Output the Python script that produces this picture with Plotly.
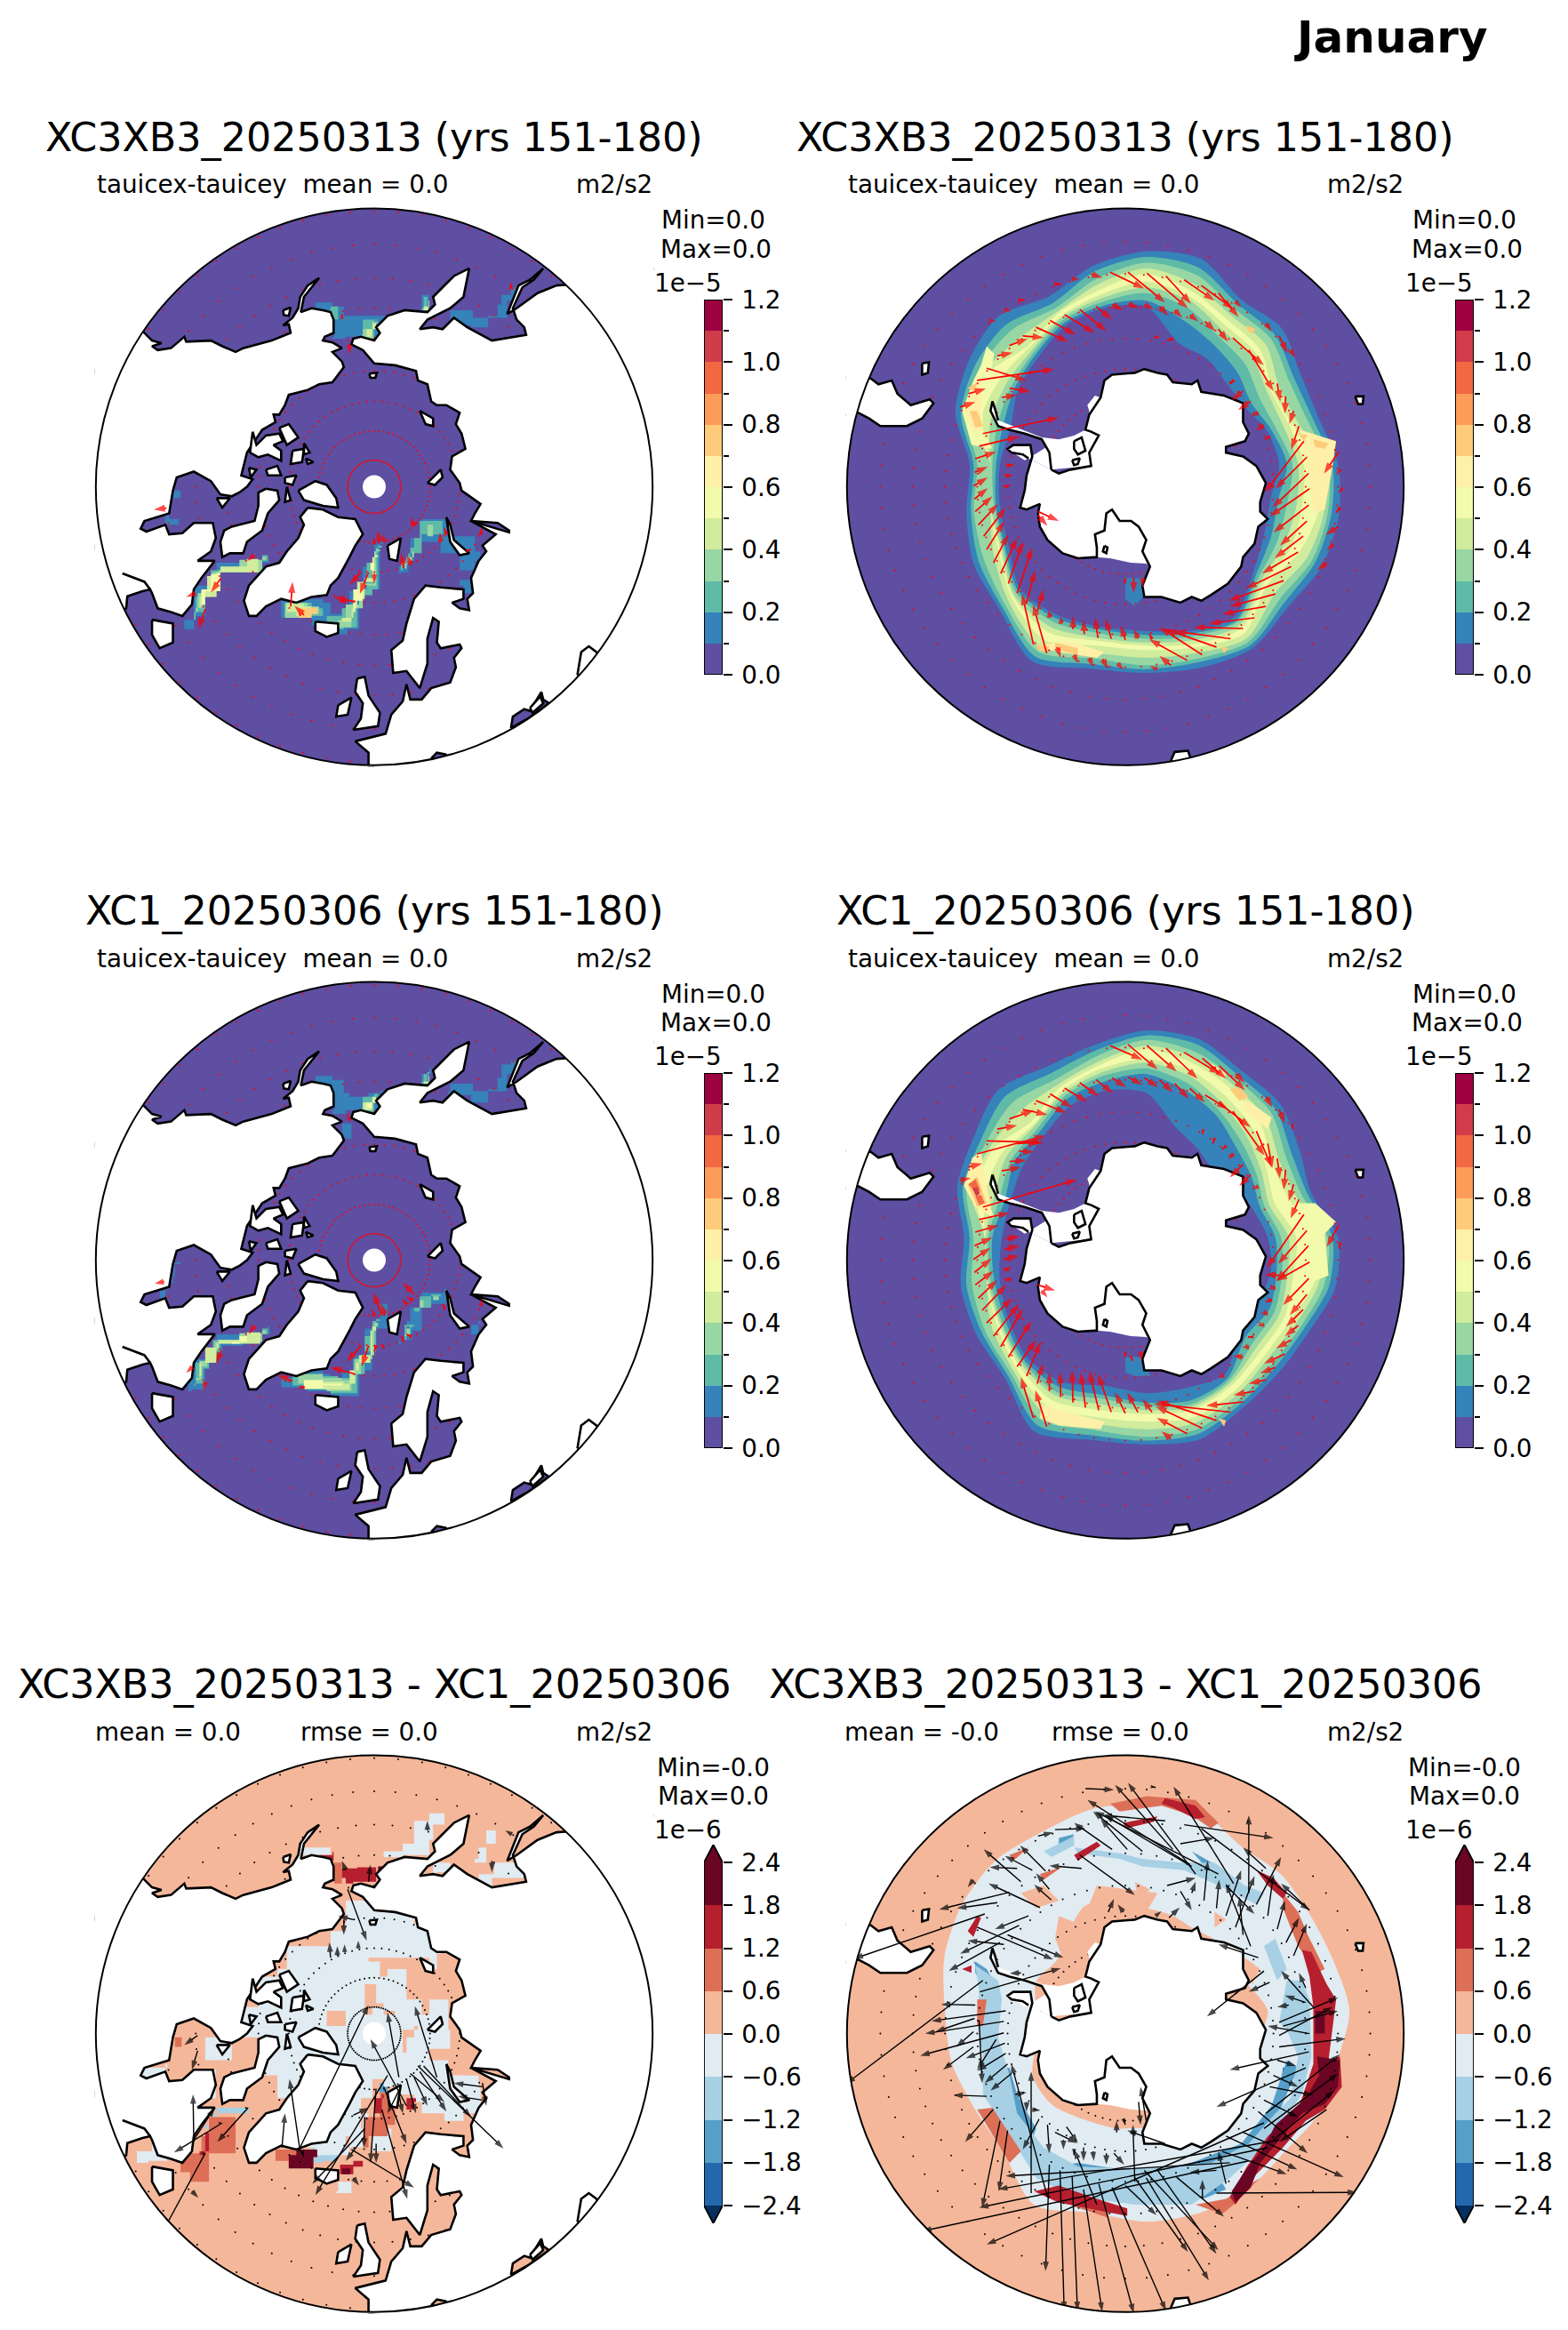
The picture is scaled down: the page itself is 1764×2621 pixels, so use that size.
import numpy as np
import plotly.graph_objects as go

# ---- page geometry (pixels) ----
W, H = 1764, 2621
COL_X = [421, 1266]
ROW_Y = [547.6, 1417.6, 2287.6]
RADIUS = 313.2

# map coordinates: projected plane, pole at (775, 790), disc radius 733
POLE = (775, 790)
DISC_R = 733

# ---- colour levels ----
SPECTRAL = ["#5e4fa2", "#3682ba", "#5fbaa8", "#98d6a4", "#d0ec9c", "#f2faac",
            "#fef0a7", "#fdcb7a", "#fd9c59", "#f16843", "#d13c4b", "#9e0142"]
RDBU = ["#2368ad", "#569fc9", "#a7d0e4", "#e1ebf2", "#f5b79a", "#dd6f57", "#b61f2e", "#6a0624"]
RDBU_UNDER = "#053061"
MEAN_TICKS = [0.0, 0.2, 0.4, 0.6, 0.8, 1.0, 1.2]
MEAN_EDGES = [0.0, 0.1, 0.2, 0.3, 0.4, 0.5, 0.6, 0.7, 0.8, 0.9, 1.0, 1.1, 1.2]
DIFF_TICKS = [-2.4, -1.8, -1.2, -0.6, 0.0, 0.6, 1.2, 1.8, 2.4]
DIFF_LABELS = ["\u22122.4", "\u22121.8", "\u22121.2", "\u22120.6", "0.0", "0.6", "1.2", "1.8", "2.4"]

# ---- land: northern hemisphere ----
N_AMERICA = [(100,340),(165,380),(190,405),(215,412),(190,420),(205,430),(240,425),(275,395),(280,408),(345,405),
 (375,420),(410,435),(430,425),(470,415),(505,405),(530,395),(555,385),(550,362),(535,365),(560,345),(575,320),
 (580,290),(600,260),(630,240),(605,270),(590,290),(582,330),(610,320),(640,325),(660,330),(668,350),(668,385),
 (645,395),(640,405),(665,410),(690,425),(665,435),(690,460),(695,475),(680,495),(665,515),(630,520),(600,535),
 (550,548),(540,575),(525,600),(510,600),(515,620),(480,640),(440,700),(430,740),(425,760),(455,770),(440,790),
 (420,805),(400,815),(370,810),(345,775),(300,750),(255,765),(245,800),(235,860),(170,880),(160,900),(175,908),
 (225,890),(235,915),(270,912),(300,885),(350,885),(358,925),(345,960),(310,985),(355,985),(320,1030),(300,1060),
 (295,1100),(270,1130),(240,1120),(205,1110),(190,1070),(185,1060),(165,1065),(125,1078),(122,1110),(100,1120),(-50,700)]
GREAT_LAKES_SHORE = [(112,1018),(145,1030),(170,1040),(185,1060)]
EURASIA = [(1600,200),(1285,258),(1255,260),(1205,280),(1150,320),(1125,335),(1155,260),(1185,245),(1220,215),(1195,245),
 (1165,265),(1140,320),(1150,350),(1170,370),(1175,390),(1085,405),(1020,370),(985,345),(955,375),(930,370),(895,375),
 (915,350),(975,320),(1010,290),(1025,215),(985,235),(955,265),(930,290),(935,310),(915,330),(855,325),(810,340),
 (780,370),(790,385),(775,405),(740,395),(720,400),(715,415),(745,430),(775,465),(830,470),(885,485),(890,510),
 (915,520),(925,565),(940,575),(965,575),(1000,595),(990,625),(1005,650),(1015,690),(980,710),(975,745),(1000,780),
 (1005,800),(1055,835),(1040,860),(1030,880),(1100,885),(1130,905),(1130,910),(1080,895),(1030,880),(1095,915),
 (1060,945),(1070,960),(1050,985),(1030,1030),(1035,1070),(1020,1085),(1025,1115),(1000,1110),(980,1095),(1010,1085),
 (1010,1060),(950,1055),(910,1050),(880,1085),(860,1150),(850,1195),(820,1220),(825,1280),(860,1275),(895,1320),
 (915,1255),(915,1190),(930,1135),(945,1145),(940,1200),(950,1215),(1000,1205),(1005,1215),(985,1240),(990,1265),
 (975,1305),(925,1320),(900,1350),(870,1350),(860,1310),(850,1355),(820,1390),(805,1440),(725,1460),(760,1490),
 (760,1525),(775,1530),(1600,1600)]
ARCTIC_ISLANDS = [
 [(600,845),(580,870),(590,890),(575,925),(545,960),(525,990),(490,1000),(445,1050),(432,1090),(445,1130),(465,1130),
  (490,1105),(530,1085),(570,1095),(610,1080),(650,1075),(660,1050),(680,1030),(710,975),(725,945),(745,915),(725,875),
  (680,870),(640,850)],
 [(490,795),(520,800),(525,825),(495,860),(480,905),(440,935),(430,965),(395,965),(375,975),(370,935),(380,905),
  (400,895),(420,890),(460,880),(470,840),(470,805)],
 [(455,645),(448,700),(470,712),(495,705),(530,722),(530,695),(510,680),(535,670),(525,650),(490,655),(465,680)],
 [(525,635),(550,625),(575,660),(545,680)],
 [(560,695),(590,690),(585,725),(555,730)],
 [(590,675),(605,700),(590,705)],
 [(595,715),(615,725),(600,730)],
 [(490,745),(520,735),(530,760),(495,760)],
 [(445,740),(465,745),(450,765)],
 [(540,765),(570,760),(560,785),(540,780)],
 [(575,800),(620,775),(650,785),(675,820),(680,845),(640,840),(590,825)],
 [(545,790),(555,825),(540,830)],
 [(895,590),(930,610),(930,630),(910,625)],
 [(915,780),(950,745),(955,765),(935,785)],
 [(762,492),(782,490),(778,503),(765,503)],
 [(965,870),(975,890),(985,930),(1025,965),(1000,970),(975,935)],
 [(810,945),(845,925),(835,985),(815,980)],
 [(620,1145),(680,1150),(680,1175),(650,1185),(620,1170)],
 [(730,1295),(750,1290),(760,1340),(790,1385),(785,1420),(720,1430),(740,1400),(745,1360),(725,1330)],
 [(680,1365),(715,1345),(705,1390),(675,1395)],
 [(190,1140),(245,1150),(245,1200),(210,1215),(190,1180)],
 [(535,325),(555,318),(550,340),(537,338)],
 [(360,820),(395,820),(375,845)],
 [(1310,1285),(1320,1225),(1340,1210),(1360,1225),(1400,1280),(1330,1300)],
]
INLAND_SEAS = [
 [(1135,1425),(1140,1395),(1170,1375),(1185,1380),(1215,1330),(1220,1350),(1235,1360),(1180,1400)],
 [(925,1505),(940,1490),(965,1495),(950,1510)],
]
CRIMEA = [(1185,1372),(1212,1342),(1220,1360),(1192,1385)]

# ---- land: southern hemisphere ----
ANTARCTIC_COAST = [(580,745),(600,755),(630,745),(685,735),(680,700),(705,655),(685,645),(670,640),(680,600),(710,555),
 (720,510),(740,495),(800,490),(825,480),(860,490),(885,495),(900,515),(950,520),(965,510),(975,540),(1035,550),(1085,570),
 (1085,620),(1100,650),(1090,670),(1040,685),(1040,700),(1085,710),(1120,735),(1145,780),(1130,830),(1130,855),(1150,875),
 (1125,895),(1115,940),(1085,975),(1080,1000),(1045,1045),(1000,1075),(975,1090),(950,1080),(920,1095),(870,1080),(825,1080),
 (820,1050),(840,1000),(820,960),(830,930),(810,895),(790,880),(760,880),(740,850),(725,860),(720,905),(695,915),(700,950),
 (700,975),(650,978),(610,965),(570,930),(550,895),(545,860),(550,835),(515,850),(498,845),(510,800),(515,760),(530,710),
 (525,680),(480,680),(465,690),(475,700),(505,705),(520,715)]
PENINSULA_COAST = [(580,745),(575,700),(555,665),(510,650),(470,640),(440,630),(420,590),(425,565),(432,585),(440,615)]
ICE_SHELVES = [
 [(580,745),(575,700),(555,665),(600,665),(640,655),(670,640),(685,645),(705,655),(680,700),(685,735)],
 [(520,715),(580,745),(575,700),(555,665),(510,650),(470,640),(440,630),(420,590),(425,565),(432,585),(440,615),(480,630),(555,660),(600,665)],
 [(680,600),(710,555),(695,550),(675,575),(680,590)],
 [(465,690),(525,680),(530,710),(510,720),(480,700)],
 [(700,975),(700,950),(695,915),(720,905),(725,860),(740,850),(760,880),(790,880),(810,895),(830,930),(820,960),(840,1000),(830,992),(790,990),(735,978)],
]
S_AMERICA = [(-50,500),(105,505),(125,520),(160,510),(175,545),(210,575),(260,560),(270,570),(240,610),(200,630),(130,630),
 (100,610),(72,595),(-50,620)]
SOUTH_ISLANDS = [
 [(640,670),(660,660),(670,695),(650,705),(640,690)],
 [(635,720),(655,715),(650,730),(640,733)],
 [(720,945),(728,950),(725,965),(716,960)],
 [(240,465),(258,462),(255,490),(240,495)],
 [(1380,552),(1402,552),(1400,572),(1388,572)],
 [(892,1518),(905,1488),(940,1485),(945,1500),(950,1506)],
]

# ---- mean stress bands around Antarctica: radius from (830, 730) every 15 degrees clockwise from north ----
RING_CENTRE = (830, 730)
RING_ANGLES = [0,15,30,45,60,75,90,105,120,135,150,165,180,195,210,225,240,255,270,285,300,315,330,345]
# outer edge of each level, lowest level first, then the inner edges from the highest level down
S1_EDGES = [
 [560,559,500,505,470,470,505,525,535,530,560,555,550,558,600,545,525,490,465,520,540,550,510,540],
 [545,535,485,480,450,455,490,505,515,515,550,540,540,545,585,535,510,478,455,505,520,520,490,525],
 [530,515,470,465,435,440,480,495,505,500,540,530,530,530,570,525,495,470,445,492,505,500,475,505],
 [515,490,450,445,405,415,465,485,490,480,530,515,510,515,555,512,465,425,410,475,490,470,465,490],
 [500,470,435,425,385,400,455,470,465,450,515,500,490,495,535,500,450,425,410,465,478,440,460,475],
 [480,455,420,410,380,390,415,425,440,440,500,490,478,482,512,495,445,425,410,450,445,435,450,462],
 [465,445,405,395,370,375,400,410,420,430,490,480,470,475,497,490,440,425,410,425,425,425,445,452],
 [450,425,385,370,345,355,385,385,400,420,480,470,460,462,482,482,435,415,405,405,410,418,438,442],
 [430,390,360,340,320,342,370,360,380,410,475,462,450,452,470,475,430,410,395,390,400,410,430,432],
 [415,330,320,300,300,330,350,340,360,400,465,455,440,445,461,467,420,400,385,370,390,400,422,425],
]
S2_EDGES = [
 [545,540,505,498,465,450,505,515,495,498,515,550,545,552,590,525,515,505,480,515,525,550,520,525],
 [532,525,490,480,442,440,490,498,480,482,503,535,535,540,572,515,500,490,465,500,505,525,500,510],
 [520,505,478,465,425,425,478,485,470,470,492,522,525,525,555,505,490,475,455,490,490,500,480,495],
 [505,490,462,445,405,410,465,470,455,452,478,505,505,508,535,495,470,435,425,478,475,470,465,480],
 [495,475,450,425,385,390,452,458,438,440,466,490,485,490,515,485,455,435,425,465,465,430,455,470],
 [470,455,425,400,365,350,395,400,420,425,450,470,465,470,495,475,450,435,425,440,440,420,445,460],
 [460,440,405,375,350,335,375,385,405,410,442,462,455,455,480,468,445,432,422,415,425,415,438,450],
 [445,420,385,355,335,322,355,370,390,395,435,455,445,440,470,462,440,425,415,400,410,405,430,440],
 [430,400,370,335,320,310,340,355,375,370,428,445,435,430,455,455,430,415,405,385,400,395,420,425],
 [380,300,270,250,270,290,320,340,340,345,415,410,410,405,440,445,420,400,380,370,375,380,400,400],
]
# local peaks in the same bands: (level, vertices)
S1_PEAKS = [
 (6,[(1235,640),(1330,670),(1320,740),(1300,850),(1270,860),(1255,740)]),
 (7,[(1095,365),(1118,375),(1108,388),(1095,378)]),
 (7,[(1230,650),(1255,655),(1245,668)]),
 (7,[(1270,665),(1310,675),(1300,690),(1275,685)]),
 (5,[(345,590),(375,510),(395,470),(410,420),(430,440),(420,490),(400,560),(400,640),(425,690),(370,680)]),
 (6,[(350,595),(372,520),(395,505),(395,640),(380,650)]),
 (7,[(365,590),(385,590),(400,630),(380,635)]),
 (7,[(360,530),(385,515),(380,540)]),
 (6,[(540,1210),(620,1195),(720,1225),(700,1240),(600,1225)]),
 (7,[(540,1205),(575,1210),(570,1225),(545,1220)]),
 (7,[(590,1200),(650,1215),(650,1232),(590,1218)]),
 (7,[(1025,1210),(1045,1215),(1035,1228)]),
]
S2_PEAKS = [
 (7,[(1050,340),(1075,335),(1100,360),(1075,370)]),
 (6,[(1090,365),(1160,415),(1150,445),(1085,395)]),
 (6,[(1000,270),(1040,300),(1030,315)]),
 (5,[(1220,640),(1275,640),(1330,690),(1300,720),(1310,830),(1260,850),(1250,760),(1230,700)]),
 (6,[(350,595),(372,520),(395,505),(420,650),(430,680),(380,650)]),
 (7,[(360,590),(385,570),(410,640),(385,650)]),
 (8,[(368,590),(382,572),(395,610),(380,615)]),
 (9,[(362,590),(380,578),(392,605),(378,608)]),
 (9,[(380,622),(395,618),(405,640),(390,645)]),
 (10,[(372,600),(385,598),(392,615),(382,622)]),
 (6,[(555,1170),(640,1195),(720,1215),(710,1235),(600,1225),(550,1205)]),
 (7,[(1020,1205),(1040,1212),(1035,1228)]),
]
S1_SHELF_PATCH = [(775,1030),(825,1030),(825,1075),(800,1105),(775,1085)]
S2_SHELF_PATCH = [(775,1045),(825,1045),(840,1095),(800,1095),(775,1085)]

# ---- mean stress over the northern seas: (level, vertices) ----
N1_PATCHES = [
 (1,[(620,305),(665,315),(695,340),(810,340),(810,355),(790,395),(770,415),(740,395),(700,400),(665,395),(670,345),(625,335)]),
 (1,[(1110,285),(1135,265),(1150,300),(1125,345),(1075,370),(1030,365),(975,345),(975,325),(1035,345),(1075,340),(1100,310)]),
 (1,[(900,285),(925,285),(920,330),(895,325)]),
 (1,[(240,800),(265,790),(265,820),(235,875),(260,890),(225,890),(225,850)]),
 (1,[(500,965),(500,985),(430,1015),(370,1040),(340,1080),(330,1130),(300,1165),(275,1140),(300,1100),(300,1050),(360,990)]),
 (1,[(775,940),(800,935),(790,1000),(790,1060),(770,1075),(735,1165),(705,1178),(660,1155),(610,1135),(530,1110),(530,1090),(580,1085),(640,1095),(660,1125),(690,1110),(710,1065),(745,1000)]),
 (1,[(900,875),(955,875),(965,920),(1040,960),(1055,985),(1040,1010),(1000,965),(950,935),(880,985),(865,1015),(845,1020),(840,1000),(860,970),(870,925)]),
 (1,[(1000,1035),(1035,1025),(1040,1070),(1010,1050)]),
 (2,[(880,925),(895,880),(950,880),(955,915),(900,965),(865,995),(850,1010),(845,990),(870,950)]),
 (2,[(345,1010),(480,970),(495,985),(430,1010),(370,1030),(340,1075),(330,1120),(300,1140),(305,1080)]),
 (2,[(780,950),(795,945),(785,1060),(770,1075),(730,1160),(695,1165),(650,1130),(690,1110),(720,1060),(755,990)]),
 (2,[(640,325),(660,315),(680,350),(670,345)]),
 (2,[(745,350),(785,352),(775,400),(740,390)]),
 (2,[(905,290),(920,290),(915,325),(900,320)]),
 (2,[(540,1095),(610,1110),(640,1130),(610,1135)]),
 (3,[(350,1015),(480,975),(490,982),(420,1010),(365,1030),(335,1075),(325,1110),(305,1120),(310,1070)]),
 (3,[(775,960),(790,955),(780,1050),(745,1110),(715,1160),(680,1140),(700,1100),(735,1045)]),
 (3,[(900,920),(915,890),(945,890),(930,920)]),
 (3,[(860,975),(880,960),(875,985),(855,1005)]),
 (3,[(540,1095),(600,1105),(630,1125),(600,1135)]),
 (3,[(745,375),(770,355),(785,360),(770,400)]),
 (4,[(360,1015),(470,980),(440,1000),(370,1025),(335,1065),(320,1105),(315,1080)]),
 (4,[(770,975),(785,970),(775,1040),(730,1110),(715,1145),(690,1135),(720,1085),(750,1030)]),
 (4,[(545,1098),(590,1105),(610,1130),(570,1120)]),
 (4,[(755,375),(780,360),(770,395)]),
 (4,[(905,315),(920,300),(918,325)]),
 (5,[(330,1065),(370,1020),(345,1060),(320,1100)]),
 (5,[(765,1010),(775,990),(765,1040)]),
 (5,[(725,1090),(745,1060),(720,1120)]),
 (5,[(765,365),(780,365),(765,385)]),
 (4,[(805,348),(820,350),(818,365)]),
 (7,[(575,1110),(600,1108),(625,1125),(610,1135)]),
]
N2_PATCHES = [
 (1,[(620,305),(665,315),(695,350),(710,360),(760,350),(810,335),(825,345),(790,395),(770,415),(740,395),(700,405),(665,395),(670,345),(625,335)]),
 (1,[(690,430),(715,440),(715,470),(700,465)]),
 (1,[(1110,275),(1135,265),(1150,300),(1125,345),(1075,375),(1030,355),(985,345),(970,360),(975,325),(1035,345),(1075,340),(1100,310)]),
 (1,[(900,300),(925,285),(920,330),(895,325)]),
 (1,[(245,800),(265,795),(250,835),(228,870),(210,890),(225,850)]),
 (1,[(495,965),(500,985),(430,1015),(375,1035),(340,1075),(330,1130),(295,1135),(285,1090),(300,1050),(360,985)]),
 (1,[(810,905),(840,905),(790,950),(780,1030),(770,1080),(735,1148),(660,1135),(600,1125),(530,1100),(570,1075),(640,1090),(660,1110),(690,1085),(720,1040),(750,970)]),
 (1,[(900,875),(960,865),(965,905),(900,975),(875,1000),(845,1012),(840,1000),(860,950),(870,915)]),
 (1,[(1030,960),(1055,950),(1050,985),(1030,980)]),
 (2,[(880,925),(895,885),(950,880),(925,915),(880,965),(860,1000),(845,1000),(855,960)]),
 (2,[(350,1000),(480,970),(495,985),(430,1010),(370,1030),(340,1075),(325,1115),(300,1120),(305,1060)]),
 (2,[(770,950),(790,945),(780,1030),(750,1090),(730,1140),(660,1130),(590,1120),(560,1090),(640,1095),(680,1100),(720,1050),(750,990)]),
 (2,[(745,360),(785,352),(775,400),(740,390)]),
 (2,[(905,300),(920,295),(915,325),(900,320)]),
 (3,[(355,1005),(480,975),(490,982),(420,1005),(365,1025),(335,1070),(320,1105),(305,1100),(315,1055)]),
 (3,[(770,965),(785,955),(775,1040),(740,1090),(715,1135),(650,1130),(590,1115),(575,1090),(640,1100),(690,1105),(725,1050)]),
 (3,[(895,895),(930,885),(945,895),(905,915)]),
 (3,[(860,970),(872,960),(870,985),(855,990)]),
 (4,[(360,1010),(475,980),(440,1000),(365,1020),(330,1060),(315,1095),(320,1060)]),
 (4,[(765,975),(780,965),(770,1040),(735,1080),(710,1130),(640,1125),(590,1108),(640,1110),(695,1115),(725,1060)]),
 (4,[(745,375),(780,360),(770,395)]),
 (4,[(905,320),(920,305),(918,325)]),
 (5,[(400,1005),(440,990),(420,1010)]),
 (5,[(590,1105),(640,1115),(690,1120),(640,1128)]),
 (5,[(755,375),(778,368),(770,390)]),
]

# ---- difference fields: (level, vertices), colours from the diverging scale ----
N3_PATCHES = [
 (3,[(520,620),(545,560),(660,520),(700,440),(780,470),(880,500),(920,560),(950,690),(970,780),(1010,900),(1050,930),(1055,1000),(1010,1020),(960,1000),(900,970),(880,950),(840,930),(800,910),(770,960),(740,1060),(700,1110),(620,1090),(600,1000),(560,960),(520,985),(480,985),(520,900),(480,800),(420,720),(470,640)]),
 (4,[(760,590),(870,590),(920,620),(950,680),(920,700),(860,620),(810,640),(790,600)]),
 (4,[(750,660),(780,710),(800,720),(770,740),(750,700)]),
 (4,[(650,730),(700,750),(700,770),(650,750)]),
 (4,[(800,740),(830,730),(800,760)]),
 (4,[(850,780),(890,770),(880,800),(860,840)]),
 (4,[(900,660),(950,680),(920,740),(900,700)]),
 (4,[(940,580),(1000,600),(1010,690),(975,700),(920,620)]),
 (4,[(975,750),(1000,800),(1050,830),(1050,900),(970,860),(920,830)]),
 (3,[(880,230),(920,210),(960,240),(930,280),(920,320),(850,325),(800,310),(850,290)]),
 (3,[(1070,255),(1095,290),(1070,340),(1040,330),(1050,300)]),
 (3,[(1050,370),(1090,340),(1120,340),(1175,380),(1085,400)]),
 (3,[(930,340),(975,325),(975,365),(940,370)]),
 (3,[(585,300),(660,300),(660,320),(595,320)]),
 (3,[(160,880),(230,870),(225,905),(170,905)]),
 (3,[(300,890),(350,885),(358,960),(310,990)]),
 (3,[(330,800),(400,820),(400,860),(340,860)]),
 (3,[(680,1180),(730,1180),(715,1210),(675,1205)]),
 (3,[(710,1040),(760,1000),(745,1090),(700,1110)]),
 (3,[(770,1040),(820,1030),(820,1100),(790,1100)]),
 (3,[(150,1100),(190,1080),(230,1125),(180,1130)]),
 (5,[(250,800),(270,800),(268,825),(250,825)]),
 (2,[(360,985),(460,985),(445,1000),(350,1040),(330,1060),(330,1030)]),
 (1,[(345,1015),(360,1025),(350,1040)]),
 (2,[(610,1090),(660,1090),(720,1085),(680,1125),(640,1130),(600,1100)]),
 (1,[(670,1100),(695,1095),(680,1118)]),
 (5,[(515,1095),(550,1095),(610,1140),(550,1125)]),
 (7,[(550,1110),(570,1095),(625,1115),(615,1145)]),
 (6,[(685,1135),(720,1125),(745,1140),(720,1160),(685,1160)]),
 (7,[(690,1145),(712,1145),(712,1160),(690,1160)]),
 (5,[(410,1010),(340,1060),(320,1105),(265,1155),(290,1180),(340,1105)]),
 (6,[(340,1050),(360,1050),(330,1110),(315,1100)]),
 (5,[(750,1010),(790,945),(830,1030),(810,1060),(760,1090)]),
 (6,[(775,960),(800,950),(795,1000),(770,1000)]),
 (6,[(860,960),(885,970),(880,990)]),
 (1,[(790,920),(815,905),(810,945)]),
 (6,[(630,320),(665,312),(668,335),(640,332)]),
 (5,[(670,340),(690,345),(690,395),(670,395)]),
 (6,[(690,355),(730,352),(790,352),(780,390),(720,395),(700,380)]),
 (7,[(785,350),(825,348),(820,365),(785,362)]),
]
S3_PALE_EDGES = [
 [545,545,500,505,500,510,535,520,530,520,540,550,555,550,590,530,520,530,530,550,560,560,545,550],
 [270,260,250,260,250,275,320,305,310,345,380,360,310,320,330,350,345,300,290,300,270,290,320,290],
]
S3_PATCHES = [
 (4,[(600,480),(650,500),(650,590),(610,590),(590,540)]),
 (4,[(700,400),(860,420),(830,470),(720,490),(680,450)]),
 (4,[(1090,590),(1130,620),(1110,660),(1085,630)]),
 (4,[(800,390),(840,410),(810,440)]),
 (4,[(500,420),(560,400),(600,440),(540,460)]),
 (4,[(1010,470),(1040,490),(1010,510)]),
 (5,[(735,185),(830,165),(960,175),(1020,235),(1000,250),(950,215),(870,190),(760,205)]),
 (5,[(1190,420),(1230,470),(1255,530),(1300,620),(1280,630),(1230,560),(1190,460)]),
 (5,[(385,700),(410,700),(400,770),(385,770)]),
 (5,[(385,990),(425,985),(500,1100),(470,1130)]),
 (5,[(620,1220),(730,1240),(730,1275),(640,1245)]),
 (5,[(1130,1170),(1060,1240),(1030,1265),(960,1240),(1040,1225)]),
 (5,[(470,320),(520,300),(480,335)]),
 (5,[(550,370),(610,350),(560,385)]),
 (2,[(380,610),(440,650),(450,700),(440,800),(470,900),(490,1000),(560,1090),(650,1140),(780,1145),(900,1140),(1000,1130),(1100,1080),(1170,1000),(1210,960),(1230,850),(1200,780),(1180,760),(1200,650),(1240,650),(1260,700),(1265,850),(1240,950),(1140,1090),(1050,1170),(950,1240),(800,1240),(640,1220),(540,1170),(460,1040),(400,950),(400,850),(385,760),(390,680)]),
 (2,[(640,300),(760,315),(820,330),(920,340),(1010,340),(1090,400),(1140,420),(1120,450),(1020,400),(930,360),(820,350),(760,330),(650,315)]),
 (2,[(1140,560),(1170,540),(1200,620),(1175,650)]),
 (2,[(560,310),(640,270),(640,295),(580,325)]),
 (1,[(430,880),(470,880),(490,950),(540,1040),(530,1070),(480,1020),(445,950)]),
 (1,[(380,600),(410,620),(445,680),(440,720),(415,690),(380,630)]),
 (1,[(575,1140),(640,1160),(780,1170),(900,1170),(1020,1140),(1100,1110),(1170,1020),(1230,880),(1200,860),(1160,980),(1080,1080),(1000,1110),(900,1150),(780,1150),(650,1130)]),
 (1,[(900,1170),(1020,1165),(1040,1200),(980,1225),(920,1205)]),
 (1,[(600,275),(640,265),(625,300),(600,305)]),
 (1,[(950,310),(1020,350),(1060,400),(1040,395),(985,350)]),
 (0,[(990,1170),(1030,1170),(1030,1200),(990,1210)]),
 (0,[(1190,880),(1215,870),(1205,920),(1185,920)]),
 (0,[(375,600),(400,615),(410,630),(390,625)]),
 (0,[(450,960),(470,970),(470,985)]),
 (6,[(1240,570),(1265,575),(1305,660),(1330,700),(1310,860),(1340,850),(1345,930),(1300,990),(1250,1020),(1190,1090),(1120,1160),(1065,1240),(1050,1220),(1095,1140),(1150,1060),(1230,990),(1270,870),(1270,720),(1260,640)]),
 (6,[(880,170),(960,190),(985,220),(960,225),(900,195),(870,185)]),
 (6,[(770,235),(860,218),(850,232),(775,250)]),
 (6,[(640,320),(700,285),(710,295),(650,335)]),
 (6,[(1120,360),(1165,380),(1200,420),(1190,435),(1150,400)]),
 (6,[(535,1205),(600,1190),(700,1225),(780,1250),(780,1270),(700,1255),(600,1235)]),
 (6,[(360,520),(385,480),(395,485),(375,535)]),
 (6,[(345,620),(370,610),(370,630)]),
 (7,[(1280,850),(1340,860),(1335,930),(1300,975),(1240,1000),(1190,1060),(1130,1130),(1105,1195),(1065,1235),(1055,1205),(1095,1145),(1140,1090),(1170,1030),(1250,960),(1285,900)]),
 (7,[(1275,730),(1300,730),(1300,790),(1275,790)]),
]

# ---- stress vectors: ((tail x, tail y), (head x, head y)) ----
N1_ARROWS = [((228,846),(195,850)),((555,1105),(560,1040)),((590,1128),(565,1103)),((725,1093),(668,1080)),((700,1093),(680,1090)),
 ((760,1015),(737,1072)),((740,1015),(710,1048)),((775,1020),(775,1045)),((372,1030),(345,1068)),((330,1112),(312,1165)),
 ((305,1070),(280,1080)),((460,970),(440,985)),((880,895),(870,870)),((885,885),(875,885)),((852,1000),(845,965)),
 ((873,995),(860,970)),((790,935),(783,905)),((803,935),(797,915)),((775,940),(775,925)),((950,935),(948,910)),
 ((965,915),(960,900)),((1055,915),(1058,900)),((1020,958),(1030,955)),((710,415),(710,440)),((690,345),(690,335)),((1135,268),(1135,255))]
N2_ARROWS = [((222,846),(197,852)),((460,962),(445,985)),((373,1028),(358,1062)),((330,1110),(327,1135)),((297,1070),(280,1087)),
 ((740,1015),(702,1058)),((760,1015),(742,1070)),((780,1015),(775,1030)),((725,1090),(660,1072)),((560,1108),(520,1092)),
 ((590,1125),(578,1122)),((795,935),(773,875)),((803,935),(792,903)),((775,935),(768,918)),((880,880),(850,848)),
 ((875,895),(858,885)),((860,905),(850,895)),((850,1000),(848,990)),((872,990),(860,985)),((800,1020),(797,1012)),
 ((1055,910),(1058,892)),((960,915),(955,905)),((710,420),(705,410))]
N3_ARROWS = [((330,1105),(200,1345)),((300,1075),(298,950)),((300,1070),(355,985)),((375,1025),(248,1103)),((443,985),(362,1075)),
 ((310,795),(275,820)),((310,835),(295,885)),((295,1205),(312,1222)),((580,1100),(552,910)),((532,1090),(540,1000)),
 ((575,1100),(760,715)),((860,980),(765,805)),((840,905),(810,735)),((940,905),(882,718)),((890,875),(1115,1092)),
 ((895,890),(965,995)),((800,930),(860,1080)),((715,1095),(880,1195)),((810,900),(620,1215)),((750,1040),(612,1185)),
 ((795,990),(862,1225)),((780,935),(765,1130)),((750,1010),(748,1090)),((780,1080),(780,1130)),((720,1005),(760,985)),
 ((860,910),(885,1000)),((840,950),(850,1000)),((1060,930),(985,920)),((1060,965),(995,955)),((1060,920),(1070,980)),
 ((880,905),(915,980)),((750,1060),(700,1125)),((705,410),(755,545)),((720,490),(680,480)),((695,490),(695,530)),
 ((660,590),(657,550)),((678,585),(678,560)),((697,575),(697,555)),((733,565),(733,545)),((915,255),(915,230)),
 ((1085,335),(1085,365)),((1137,265),(1120,255)),((760,390),(765,345)),((700,360),(690,335)),((720,1170),(735,1190)),
 ((585,1100),(590,1115)),((870,895),(960,970)),((905,875),(1030,1010)),((845,930),(810,1000))]
S1_ARROWS = [((735,225),(825,268)),((782,225),(880,305)),((832,228),(940,320)),((882,235),(948,308)),((930,245),(1010,300)),
 ((975,260),(1060,322)),((1020,280),(1073,343)),((1065,302),(1080,318)),((685,230),(715,240)),((635,243),(655,243)),
 ((590,255),(605,258)),((495,298),(510,298)),((458,323),(475,328)),((418,352),(435,355)),((1145,360),(1160,382)),
 ((1180,393),(1202,438)),((1210,430),(1222,450)),((698,315),(740,350)),((655,323),(725,380)),((615,337),(695,385)),
 ((577,352),(645,390)),((540,370),(625,408)),((740,310),(770,325)),((783,308),(810,320)),((825,310),(850,322)),
 ((865,315),(888,340)),((905,325),(925,345)),((945,338),(968,355)),((985,355),(1012,380)),((1020,375),(1045,408)),
 ((1058,398),(1140,470)),((1100,430),(1165,538)),((1175,518),(1183,565)),((1197,552),(1195,598)),((1218,590),(1207,625)),
 ((505,393),(560,397)),((470,418),(518,400)),((438,445),(478,437)),((410,478),(515,510)),((385,510),(588,480)),
 ((470,530),(525,540)),((450,555),(490,548)),((362,545),(408,532)),((340,580),(380,567)),((400,650),(600,608)),
 ((390,683),(495,658)),((380,716),(435,698)),((378,752),(413,737)),((375,788),(413,765)),((378,822),(413,793)),
 ((380,855),(425,815)),((388,890),(440,835)),((402,920),(460,845)),((410,955),(457,880)),((428,990),(467,915)),
 ((447,1018),(490,925)),((467,1045),(505,935)),((490,1070),(530,950)),((515,1095),(538,1010)),((533,1205),(503,1072)),
 ((568,1228),(532,1100)),((543,1118),(560,1060)),((463,733),(480,732)),((460,760),(475,760)),((458,790),(470,785)),
 ((575,1135),(575,1112)),((605,1150),(605,1130)),((637,1165),(637,1130)),((667,1178),(665,1140)),((703,1188),(695,1135)),
 ((738,1190),(723,1138)),((775,1193),(762,1155)),((808,1190),(798,1165)),((845,1190),(838,1177)),((1052,1190),(905,1170)),
 ((1015,1212),(880,1165)),((977,1232),(865,1160)),((938,1247),(838,1192)),((895,1260),(865,1235)),((858,1270),(840,1262)),
 ((820,1030),(820,1055)),((797,1030),(797,1070)),((775,1035),(775,1045)),((595,1212),(605,1240)),((640,1232),(650,1255)),
 ((680,1240),(690,1265)),((715,1243),(730,1270)),((755,1255),(770,1272)),((1085,1163),(955,1160)),((1115,1135),(995,1150)),
 ((1145,1105),(1030,1125)),((1170,1072),(1050,1105)),((1192,1037),(1047,1090)),((1212,1000),(1092,1058)),((1230,962),(1135,1018)),
 ((1243,920),(1168,978)),((1253,880),(1182,945)),((1258,838),(1165,910)),((1260,795),(1155,868)),((1257,755),(1162,845)),
 ((1253,712),(1170,795)),((1245,670),(1142,805)),((1232,630),(1212,692)),((1337,698),(1298,755)),((1340,745),(1330,760)),
 ((1345,795),(1338,805)),((1340,845),(1330,858)),((1335,895),(1302,917)),((1322,942),(1305,957)),((1305,990),(1280,1010)),
 ((1085,538),(1055,562)),((1105,565),(1072,588)),((1125,595),(1105,605)),((1140,628),(1118,642)),((1155,658),(1142,665)),
 ((1060,510),(1050,520)),((545,855),(600,880)),((545,865),(570,893)),((900,400),(885,405)),((860,395),(850,398))]
S2_ARROWS = [((735,225),(820,262)),((782,222),(860,288)),((832,225),(910,293)),((882,232),(965,312)),((930,243),(1025,300)),
 ((978,258),(1040,312)),((1022,278),(1090,342)),((1065,300),(1090,322)),((698,315),(742,350)),((655,323),(705,358)),
 ((615,337),(675,373)),((577,352),(635,388)),((540,370),(620,402)),((740,310),(778,335)),((783,308),(820,328)),
 ((825,310),(862,335)),((865,315),(900,348)),((905,325),(942,365)),((945,338),(985,375)),((985,355),(1045,392)),
 ((1020,375),(1105,440)),((1058,398),(1142,515)),((1120,450),(1160,545)),((1150,483),(1162,548)),((1175,522),(1182,575)),
 ((1197,552),(1192,605)),((1218,590),(1205,635)),((505,393),(570,407)),((470,418),(535,395)),((438,445),(490,435)),
 ((410,476),(560,480)),((385,510),(565,462)),((490,483),(550,480)),((495,503),(535,505)),((470,530),(515,527)),
 ((450,555),(500,545)),((362,545),(398,535)),((340,580),(368,573)),((400,650),(648,578)),((390,683),(470,665)),
 ((380,716),(442,698)),((378,752),(425,730)),((375,788),(420,757)),((378,822),(423,785)),((380,855),(428,818)),
 ((388,890),(438,842)),((398,922),(462,855)),((410,955),(477,890)),((428,990),(495,905)),((447,1018),(505,918)),
 ((467,1045),(528,950)),((490,1070),(540,1000)),((515,1095),(552,1005)),((533,1205),(500,1098)),((568,1228),(538,1132)),
 ((543,1115),(558,1062)),((460,733),(498,728)),((457,760),(497,753)),((455,787),(495,778)),((458,815),(472,810)),
 ((460,842),(475,838)),((575,1135),(575,1085)),((605,1150),(603,1085)),((637,1165),(635,1080)),((670,1178),(658,1085)),
 ((705,1185),(680,1082)),((738,1190),(703,1090)),((775,1193),(748,1138)),((808,1190),(780,1138)),((845,1190),(820,1155)),
 ((1052,1190),(850,1168)),((1015,1212),(860,1160)),((977,1232),(855,1175)),((938,1247),(858,1205)),((895,1260),(870,1240)),
 ((1085,1163),(988,1173)),((1115,1135),(1060,1145)),((1145,1105),(1100,1115)),((1170,1072),(1130,1088)),((1195,1037),(1140,1062)),
 ((1212,1000),(1172,1022)),((1230,962),(1195,990)),((1243,920),(1198,965)),((1253,880),(1208,935)),((1258,838),(1190,908)),
 ((1260,795),(1172,845)),((1257,752),(1172,845)),((1253,712),(1177,800)),((1245,670),(1148,810)),((1232,630),(1210,680)),
 ((1337,698),(1305,755)),((1340,745),(1338,760)),((1180,830),(1142,828)),((1170,862),(1150,865)),((1160,895),(1145,900)),
 ((1150,930),(1130,930)),((1140,960),(1122,962)),((1110,992),(1098,992)),((1100,1020),(1082,1018)),((1085,1045),(1058,1042)),
 ((1035,1095),(1018,1098)),((790,1045),(795,1055)),((815,1030),(818,1055)),((775,1035),(775,1045)),((1085,538),(1050,572)),
 ((1105,565),(1075,595)),((1125,595),(1108,605)),((1060,510),(1045,525)),((1040,490),(1030,498)),((1010,470),(1005,483)),
 ((980,448),(978,458)),((545,855),(590,870)),((555,870),(570,888)),((1215,435),(1215,445)),((1180,393),(1195,430)),((1145,360),(1162,388))]
S3_ARROWS = [((670,145),(745,148)),((900,305),(748,135)),((960,370),(782,130)),((1060,395),(902,140)),((845,140),(855,142)),
 ((945,345),(675,175)),((1020,370),(695,205)),((820,310),(690,205)),((880,230),(715,215)),((780,305),(710,225)),
 ((950,350),(720,215)),((740,305),(640,235)),((590,253),(670,250)),((545,270),(585,260)),((930,240),(1165,275)),
 ((920,290),(1010,275)),((975,250),(1260,465)),((1100,420),(1100,215)),((1145,355),(1085,300)),((1120,450),(1185,325)),
 ((1150,480),(1165,370)),((1260,465),(1185,395)),((1175,515),(1195,440)),((1198,550),(1232,485)),((1218,585),(1253,500)),
 ((1250,670),(1232,630)),((1270,720),(1185,625)),((1040,400),(1115,475)),((1065,510),(1115,375)),((1040,480),(1080,360)),
 ((1015,460),(1022,385)),((982,440),(992,335)),((950,420),(960,390)),((885,400),(960,380)),((920,415),(950,465)),
 ((1105,560),(1040,395)),((1085,530),(1075,430)),((655,320),(800,425)),((660,355),(575,348)),((1125,590),(1020,555)),
 ((500,390),(402,305)),((530,360),(458,322)),((565,362),(498,295)),((575,410),(540,368)),((580,438),(535,398)),
 ((490,355),(418,352)),((550,458),(415,395)),((470,418),(285,463)),((438,445),(332,460)),((405,475),(60,593)),
 ((520,480),(432,515)),((495,505),(340,580)),((385,510),(585,595)),((465,530),(612,590)),((455,555),(360,545)),
 ((445,550),(310,625)),((392,680),(605,618)),((500,630),(470,632)),((400,650),(40,922)),((380,715),(290,713)),
 ((460,730),(265,757)),((378,750),(275,785)),((455,758),(248,790)),((375,785),(330,825)),((455,788),(235,848)),
 ((375,825),(295,885)),((410,955),(322,952)),((390,755),(398,920)),((435,805),(385,885)),((458,815),(355,855)),
 ((460,842),(385,888)),((465,870),(405,920)),((475,895),(420,940)),((427,990),(353,1075)),((445,1020),(398,1248)),
 ((465,1045),(442,1205)),((570,1220),(475,870)),((527,1210),(527,890)),((485,950),(515,945)),((515,970),(515,995)),
 ((530,990),(552,992)),((548,1015),(505,1095)),((570,1030),(575,1105)),((590,1050),(648,1078)),((620,1035),(650,1078)),
 ((612,1070),(612,1095)),((690,1100),(692,1125)),((725,1105),(725,1135)),((745,1105),(772,1135)),((640,1095),(640,1110)),
 ((665,1090),(665,1125)),((880,1080),(780,1045)),((800,1180),(795,1030)),((1305,990),(1180,1075)),((1180,760),(1335,695)),
 ((1190,770),(1335,730)),((1260,790),(1150,770)),((1180,795),(1320,720)),((1180,825),(1355,803)),((1258,838),(1050,885)),
 ((1175,860),(1225,875)),((1250,880),(1015,983)),((1165,900),(1230,930)),((1155,930),(1270,952)),((1145,1000),(1340,845)),
 ((1140,1040),(1335,895)),((1165,1070),(1325,940)),((1125,995),(1255,1105)),((1140,965),(1230,1010)),((1085,1050),(1350,1168)),
 ((1040,1060),(1228,1148)),((1030,1100),(1200,1160)),((1180,1070),(440,1200)),((1150,1090),(390,1248)),((1100,1125),(240,1310)),
 ((1050,1130),(460,1165)),((1040,1185),(1020,1100)),((1015,1150),(945,1155)),((1140,1025),(410,1345)),((1015,1210),(1385,1208)),
 ((978,1225),(978,1175)),((910,1168),(1035,1272)),((575,1135),(565,1415)),((603,1150),(614,1520)),((635,1165),(649,1520)),
 ((665,1200),(714,1522)),((705,1185),(797,1526)),((740,1195),(882,1520)),((775,1190),(857,1268)),((800,1170),(940,1365)),
 ((830,1170),(995,1440)),((860,1150),(1015,1370)),((825,1150),(1020,1360)),((700,1240),(640,1095)),((1140,625),(990,745)),
 ((1155,655),(1100,680)),((1250,708),(1195,690)),((1205,715),(1175,720)),((830,1020),(815,930)),((810,970),(815,1030)),
 ((770,1015),(775,1030)),((752,1050),(752,1020)),((730,470),(745,435)),((770,470),(755,450)),((890,485),(918,458)),
 ((855,480),(870,468)),((375,385),(360,405))]

# ---- near-zero vector grid: ring radii about the pole, 5 degree spacing ----
N_GRID_RINGS = [70, 147, 225, 305, 390, 470, 550, 638, 725]
S_GRID_RINGS = [230, 310, 390, 475, 560, 645]
GRID_LONGITUDES = list(range(0, 360, 5))

# ---- text ----
TITLES = [["XC3XB3_20250313 (yrs 151-180)"] * 2, ["XC1_20250306 (yrs 151-180)"] * 2, ["XC3XB3_20250313 - XC1_20250306"] * 2]
MONTH = "January"
COAST_W = 2.6


def xs(p):
    return [v[0] for v in p]


def ys(p):
    return [v[1] for v in p]


def polar(radii):
    a = np.radians(RING_ANGLES)
    r = np.array(radii, float)
    return list(zip(RING_CENTRE[0] + r * np.sin(a), RING_CENTRE[1] - r * np.cos(a)))


def merged(polys):
    x, y = [], []
    for p in polys:
        x += xs(p) + [p[0][0], None]
        y += ys(p) + [p[0][1], None]
    return x[:-1], y[:-1]


fig = go.Figure()


def fill(ax, polys, color, line=None, width=0, shape="linear"):
    x, y = merged(polys)
    fig.add_trace(go.Scatter(x=x, y=y, mode="lines", fill="toself", fillcolor=color, hoverinfo="skip",
                             line=dict(color=line or color, width=width, shape=shape), xaxis=f"x{ax}", yaxis=f"y{ax}", showlegend=False))


def stroke(ax, path, width=COAST_W):
    fig.add_trace(go.Scatter(x=xs(path), y=ys(path), mode="lines", hoverinfo="skip",
                             line=dict(color="black", width=width), xaxis=f"x{ax}", yaxis=f"y{ax}", showlegend=False))


def stacked_edges(ax, edges, colors):
    # closed curves painted outermost first, each hiding the interior of the one before
    for radii, color in zip(edges, colors):
        p = polar(radii)
        p = p + [p[0]]
        fig.add_trace(go.Scatter(x=xs(p), y=ys(p), mode="lines", fill="toself", fillcolor=color, hoverinfo="skip",
                                 line=dict(color=color, width=0, shape="spline", smoothing=0.8),
                                 xaxis=f"x{ax}", yaxis=f"y{ax}", showlegend=False))


def patches(ax, items, palette, shape="linear"):
    for level in sorted({l for l, _ in items}):
        fill(ax, [p for l, p in items if l == level], palette[level], width=0, shape=shape)


def grid_dots(ax, rings, color):
    a = np.radians(GRID_LONGITUDES)
    x, y = [], []
    for r in rings:
        x += list(POLE[0] + r * np.sin(a))
        y += list(POLE[1] - r * np.cos(a))
    fig.add_trace(go.Scatter(x=x, y=y, mode="markers", hoverinfo="skip", marker=dict(color=color, size=2, line=dict(width=0)),
                             xaxis=f"x{ax}", yaxis=f"y{ax}", showlegend=False))


def arrows(ax, items, color, width, head):
    x, y, s = [], [], []
    for (a, b) in items:
        length = np.hypot(b[0] - a[0], b[1] - a[1]) / 2.34
        x += [a[0], b[0], None]
        y += [a[1], b[1], None]
        s += [0, min(head, max(5, 3 + length * 0.7)), 0]
    fig.add_trace(go.Scatter(x=x, y=y, mode="lines+markers", hoverinfo="skip", line=dict(color=color, width=width),
                             marker=dict(symbol="arrow", angleref="previous", size=s, color=color, line=dict(width=0)),
                             xaxis=f"x{ax}", yaxis=f"y{ax}", showlegend=False))


def north_land(ax):
    fill(ax, [N_AMERICA], "white", "black", COAST_W)
    fill(ax, [EURASIA], "white", "black", COAST_W)
    stroke(ax, GREAT_LAKES_SHORE)
    fill(ax, ARCTIC_ISLANDS, "white", "black", COAST_W)


def south_land(ax):
    fill(ax, [ANTARCTIC_COAST], "white")
    fill(ax, ICE_SHELVES, "white")
    stroke(ax, ANTARCTIC_COAST)
    stroke(ax, PENINSULA_COAST)
    fill(ax, [S_AMERICA], "white", "black", COAST_W)
    fill(ax, SOUTH_ISLANDS, "white", "black", COAST_W)


def north_panel(ax, items, palette, ocean, vectors, color, width, head):
    patches(ax, items, palette, shape="hv")  # grid cells read as stair-stepped edges
    grid_dots(ax, N_GRID_RINGS, color)
    north_land(ax)
    fill(ax, INLAND_SEAS, ocean, "black", COAST_W)
    fill(ax, [CRIMEA], "white", "black", COAST_W)
    fig.add_trace(go.Scatter(x=[POLE[0]], y=[POLE[1]], mode="markers", hoverinfo="skip",
                             marker=dict(color="white", size=26, line=dict(width=0)),
                             xaxis=f"x{ax}", yaxis=f"y{ax}", showlegend=False))
    arrows(ax, vectors, color, width, head)


MEAN_RING_COLORS = [SPECTRAL[1], SPECTRAL[2], SPECTRAL[3], SPECTRAL[4], SPECTRAL[5],
                    SPECTRAL[4], SPECTRAL[3], SPECTRAL[2], SPECTRAL[1], SPECTRAL[0]]


def south_mean(ax, edges, shelf, peaks, vectors):
    stacked_edges(ax, edges, MEAN_RING_COLORS)
    fill(ax, [shelf], SPECTRAL[1])
    patches(ax, peaks, SPECTRAL)
    grid_dots(ax, S_GRID_RINGS, "red")
    south_land(ax)
    arrows(ax, vectors, "red", 1.7, 13)


# the six map panels, in reading order
north_panel(1, N1_PATCHES, SPECTRAL, SPECTRAL[0], N1_ARROWS, "red", 1.7, 13)
south_mean(2, S1_EDGES, S1_SHELF_PATCH, S1_PEAKS, S1_ARROWS)
north_panel(3, N2_PATCHES, SPECTRAL, SPECTRAL[0], N2_ARROWS, "red", 1.7, 13)
south_mean(4, S2_EDGES, S2_SHELF_PATCH, S2_PEAKS, S2_ARROWS)
north_panel(5, N3_PATCHES, RDBU, RDBU[4], N3_ARROWS, "black", 1.4, 11)
stacked_edges(6, S3_PALE_EDGES, [RDBU[3], RDBU[4]])
patches(6, S3_PATCHES, RDBU)
grid_dots(6, S_GRID_RINGS, "black")
south_land(6)
arrows(6, S3_ARROWS, "black", 1.4, 11)

shapes = []
annotations = []
layout = dict(width=W, height=H, margin=dict(l=0, r=0, t=0, b=0, autoexpand=False), paper_bgcolor="white", plot_bgcolor="white", showlegend=False)

theta = np.linspace(0, 2 * np.pi, 361)
cx = POLE[0] + DISC_R * np.cos(theta)
cy = POLE[1] + DISC_R * np.sin(theta)
box = (POLE[0] - DISC_R - 4, POLE[0] + DISC_R + 4, POLE[1] - DISC_R - 4, POLE[1] + DISC_R + 4)
mask = f"M {box[0]} {box[2]} L {box[1]} {box[2]} L {box[1]} {box[3]} L {box[0]} {box[3]} Z M " + " L ".join(f"{a:.1f} {b:.1f}" for a, b in zip(cx, cy)) + " Z"
OCEAN = [SPECTRAL[0], SPECTRAL[0], SPECTRAL[0], SPECTRAL[0], RDBU[4], RDBU[4]]

for ax in range(1, 7):
    row, col = (ax - 1) // 2, (ax - 1) % 2
    px0, px1 = COL_X[col] - RADIUS, COL_X[col] + RADIUS
    py0, py1 = ROW_Y[row] - RADIUS, ROW_Y[row] + RADIUS
    ext = 4 * RADIUS / DISC_R
    layout[f"xaxis{ax}"] = dict(domain=[(px0 - ext) / W, (px1 + ext) / W], range=[box[0], box[1]], visible=False, fixedrange=True)
    layout[f"yaxis{ax}"] = dict(domain=[1 - (py1 + ext) / H, 1 - (py0 - ext) / H], range=[box[3], box[2]], visible=False, fixedrange=True)
    xr, yr = f"x{ax}", f"y{ax}"
    shapes.append(dict(type="circle", xref=xr, yref=yr, x0=POLE[0] - DISC_R, x1=POLE[0] + DISC_R, y0=POLE[1] - DISC_R, y1=POLE[1] + DISC_R,
                       fillcolor=OCEAN[ax - 1], line=dict(width=0), layer="below"))
    shapes.append(dict(type="path", path=mask, xref=xr, yref=yr, fillcolor="white", line=dict(width=0), layer="above"))
    shapes.append(dict(type="circle", xref=xr, yref=yr, x0=POLE[0] - DISC_R, x1=POLE[0] + DISC_R, y0=POLE[1] - DISC_R, y1=POLE[1] + DISC_R,
                       line=dict(color="black", width=2), layer="above"))


def note(px, py, text, size, bold=False):
    annotations.append(dict(x=px / W, y=1 - py / H, xref="paper", yref="paper", text=f"<b>{text}</b>" if bold else text, showarrow=False,
                            xanchor="center", yanchor="middle", font=dict(family="DejaVu Sans", size=size, color="black")))


note(1565, 42, MONTH, 50, bold=True)
for row in range(3):
    for col in range(2):
        dx, dy = col * 845, row * 870
        note(421 + dx, 155 + dy, TITLES[row][col], 44.4)
        if row < 2:
            note(306 + dx, 208 + dy, "tauicex-tauicey  mean = 0.0", 27.8)
        else:
            note((189 if col == 0 else 192) + dx, 208 + dy, "mean = 0.0" if col == 0 else "mean = -0.0", 27.8)
            note(415 + dx, 208 + dy, "rmse = 0.0", 27.8)
        note(691 + dx, 208 + dy, "m2/s2", 27.8)
        if row < 2:
            note(802 + dx, 248 + dy, "Min=0.0", 27.8)
            note(805 + dx, 280 + dy, "Max=0.0", 27.8)
            note(774 + dx, 318 + dy, "1e\u22125", 27.8)
        else:
            note(802 + dx, 248 + dy, "Min=-0.0", 27.8)
            note(802 + dx, 280 + dy, "Max=0.0", 27.8)
            note(774 + dx, 318 + dy, "1e\u22126", 27.8)

# colour bars, one small axis per panel
BAR_X = [792, 813]
for ax in range(7, 13):
    row, col = (ax - 7) // 2, (ax - 7) % 2
    dx, dy = col * 845, row * 870
    xa, ya = f"x{ax}", f"y{ax}"
    lx0, lx1 = (BAR_X[0] + dx) / W, (BAR_X[1] + dx) / W
    layout[f"xaxis{ax}"] = dict(domain=[lx0, lx1], range=[0, 1], visible=False, fixedrange=True)
    tick_style = dict(ticks="outside", ticklen=9.7, tickwidth=2, tickcolor="black", showgrid=False, zeroline=False, showline=False,
                      ticklabelstandoff=5, tickfont=dict(family="DejaVu Sans", size=27.8, color="black"))
    if row < 2:
        n = len(SPECTRAL)
        scale = []
        for i, c in enumerate(SPECTRAL):
            scale += [[i / n, c], [(i + 1) / n, c]]
        fig.add_trace(go.Heatmap(x=[0, 1], y=MEAN_EDGES, z=[[i] for i in range(n)], zmin=-0.5, zmax=n - 0.5, colorscale=scale,
                                 showscale=False, hoverinfo="skip", xaxis=xa, yaxis=ya))
        fig.add_trace(go.Scatter(x=[0, 1, 1, 0, 0], y=[0, 0, 1.2, 1.2, 0], mode="lines", line=dict(color="black", width=2),
                                 hoverinfo="skip", xaxis=xa, yaxis=ya, showlegend=False, cliponaxis=False))
        layout[f"yaxis{ax}"] = dict(domain=[1 - (759 + dy) / H, 1 - (337 + dy) / H], range=[0, 1.2], side="right", anchor=xa, fixedrange=True,
                                    tickvals=MEAN_TICKS, ticktext=[f"{v:.1f}" for v in MEAN_TICKS],
                                    minor=dict(tickvals=MEAN_EDGES[1::2], ticks="outside", ticklen=5.5, tickwidth=2, tickcolor="black", showgrid=False),
                                    **tick_style)
    else:
        n = len(RDBU)
        scale = []
        for i, c in enumerate(RDBU):
            scale += [[i / n, c], [(i + 1) / n, c]]
        tip = 2.4 * 20 / 193
        fig.add_trace(go.Heatmap(x=[0, 1], y=DIFF_TICKS, z=[[i] for i in range(n)], zmin=-0.5, zmax=n - 0.5, colorscale=scale,
                                 showscale=False, hoverinfo="skip", xaxis=xa, yaxis=ya))
        fig.add_trace(go.Scatter(x=[0, 0.5, 1, 0], y=[2.4, 2.4 + tip, 2.4, 2.4], mode="lines", fill="toself", fillcolor=RDBU[-1], line=dict(width=0),
                                 hoverinfo="skip", xaxis=xa, yaxis=ya, showlegend=False))
        fig.add_trace(go.Scatter(x=[0, 0.5, 1, 0], y=[-2.4, -2.4 - tip, -2.4, -2.4], mode="lines", fill="toself", fillcolor=RDBU_UNDER, line=dict(width=0),
                                 hoverinfo="skip", xaxis=xa, yaxis=ya, showlegend=False))
        fig.add_trace(go.Scatter(x=[0, 0, 0.5, 1, 1, 0.5, 0], y=[-2.4, 2.4, 2.4 + tip, 2.4, -2.4, -2.4 - tip, -2.4], mode="lines",
                                 line=dict(color="black", width=1.8), hoverinfo="skip", xaxis=xa, yaxis=ya, showlegend=False, cliponaxis=False))
        pad = 20
        layout[f"yaxis{ax}"] = dict(domain=[1 - (2481 + pad) / H, 1 - (2095 - pad) / H], range=[-2.4 - tip, 2.4 + tip], side="right", anchor=xa, fixedrange=True,
                                    tickvals=DIFF_TICKS, ticktext=DIFF_LABELS, **tick_style)

layout["shapes"] = shapes
layout["annotations"] = annotations
fig.update_layout(**layout)
fig.write_html("out.html")
